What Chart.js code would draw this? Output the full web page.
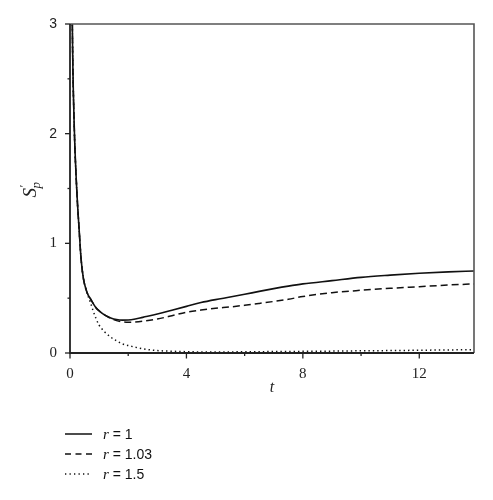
<!DOCTYPE html>
<html><head><meta charset="utf-8">
<script src="https://cdn.jsdelivr.net/npm/chart.js@4.4.1/dist/chart.umd.min.js"></script>
<style>
body{margin:0;background:#fff;}
#wrap{position:relative;width:493px;height:500px;}
#legend{position:absolute;left:0;top:0;width:493px;height:500px;pointer-events:none;}
.row{position:absolute;left:65px;height:20px;display:flex;align-items:center;font:14px "Liberation Sans",Arial,sans-serif;color:#111;white-space:pre;}
.row svg{margin-right:11px;display:block}
.r{font-family:"Liberation Serif",serif;font-style:italic;font-size:15px}
</style></head>
<body><div id="wrap"><canvas id="c" width="493" height="500"></canvas><div id="legend"></div></div>
<script>
// ---- data ----
const tValues = [0.05,0.08,0.14,0.23,0.32,0.38,0.46,0.55,0.62,0.69,0.8,0.9,1.0,1.2,1.4,1.6,1.8,2.0,2.2,2.5,3.0,3.5,4.0,4.5,5.0,5.5,6.0,6.5,7.0,7.5,8.0,9.0,10,11,12,13,13.88];
const spR1   = [4.2,3.0,2.12,1.5,1.1,0.86,0.68,0.58,0.53,0.50,0.45,0.41,0.385,0.345,0.32,0.305,0.30,0.301,0.307,0.325,0.355,0.39,0.425,0.46,0.487,0.51,0.535,0.562,0.587,0.61,0.63,0.66,0.69,0.71,0.727,0.74,0.748];
const spR103 = [4.2,3.0,2.12,1.5,1.1,0.86,0.68,0.58,0.53,0.50,0.45,0.41,0.385,0.345,0.315,0.295,0.284,0.28,0.282,0.29,0.31,0.34,0.372,0.392,0.408,0.42,0.435,0.452,0.47,0.49,0.515,0.55,0.572,0.59,0.605,0.62,0.63];
const spR15  = [4.2,3.0,2.12,1.5,1.1,0.86,0.68,0.58,0.52,0.47,0.38,0.31,0.255,0.19,0.145,0.11,0.083,0.068,0.055,0.038,0.022,0.016,0.012,0.01,0.01,0.01,0.011,0.012,0.013,0.014,0.015,0.017,0.02,0.022,0.025,0.028,0.03];
const rLabels = ['1','1.03','1.5'];
const xMajorTicks = [0,4,8,12];
const xMinorTicks = [2,6,10];
const yMajorTicks = [0,1,2,3];
const yMinorTicks = [0.5,1.5,2.5];
const xTitle = 't';

const seriesValues = [spR1, spR103, spR15];
const dashes = [[], [7,4], [1.4,3]];
const widths = [1.6, 1.5, 1.5];

const datasets = seriesValues.map((vals,i)=>({
  label: 'r = ' + rLabels[i],
  data: tValues.map((t,k)=>({x:t, y:vals[k]})),
  borderColor:'#111', borderWidth:widths[i], borderDash:dashes[i],
  pointRadius:0, fill:false, cubicInterpolationMode:'monotone'
}));

const framePlugin = {
  id:'frame',
  afterDraw(chart){
    const {ctx, chartArea:a, scales:{x,y}} = chart;
    ctx.save();
    ctx.strokeStyle='#555'; ctx.lineWidth=1.6;
    ctx.beginPath(); ctx.moveTo(a.left,a.top); ctx.lineTo(a.right,a.top); ctx.lineTo(a.right,a.bottom); ctx.stroke();
    ctx.strokeStyle='#222'; ctx.lineWidth=1.8;
    ctx.beginPath(); ctx.moveTo(a.left,a.top); ctx.lineTo(a.left,a.bottom); ctx.lineTo(a.right,a.bottom); ctx.stroke();
    ctx.lineWidth=1.3;
    const tk=(px,py,dx,dy)=>{ctx.beginPath();ctx.moveTo(px,py);ctx.lineTo(px+dx,py+dy);ctx.stroke();};
    xMajorTicks.forEach(v=>tk(x.getPixelForValue(v),a.bottom,0,5.5));
    xMinorTicks.forEach(v=>tk(x.getPixelForValue(v),a.bottom,0,3));
    yMajorTicks.forEach(v=>tk(a.left,y.getPixelForValue(v),-5,0));
    yMinorTicks.forEach(v=>tk(a.left,y.getPixelForValue(v),-2.5,0));
    // y title S'_p
    ctx.fillStyle='#222';
    ctx.translate(31,(a.top+a.bottom)/2-3);
    ctx.rotate(-Math.PI/2);
    ctx.textBaseline='middle'; ctx.textAlign='left';
    ctx.font='italic 19px "Liberation Serif", serif';
    ctx.fillText('S',-12,0);
    const sw=ctx.measureText('S').width;
    ctx.font='13px "Liberation Serif", serif';
    ctx.fillText('\u2032',-12+sw+0.5,-6);
    ctx.font='italic 13px "Liberation Serif", serif';
    ctx.fillText('p',-12+sw-0.5,6);
    ctx.restore();
  }
};

new Chart(document.getElementById('c'), {
  type:'line',
  data:{datasets},
  plugins:[framePlugin],
  options:{
    responsive:false, animation:false,
    layout:{padding:{left:0,top:24,right:19,bottom:103}},
    plugins:{legend:{display:false},tooltip:{enabled:false}},
    scales:{
      x:{type:'linear',min:0,max:13.88,
         afterBuildTicks:s=>{s.ticks=xMajorTicks.map(v=>({value:v}));},
         afterFit:s=>{s.height=44;},
         grid:{display:false}, border:{display:false},
         ticks:{padding:4,color:'#222',font:{family:'"Liberation Serif", serif',size:15},autoSkip:false,maxRotation:0},
         title:{display:true,text:xTitle,color:'#222',font:{family:'"Liberation Serif", serif',size:16,style:'italic'},padding:{top:0,bottom:0}}},
      y:{type:'linear',min:0,max:3,
         afterBuildTicks:s=>{s.ticks=yMajorTicks.map(v=>({value:v}));},
         afterFit:s=>{s.width=70;},
         grid:{display:false}, border:{display:false},
         ticks:{padding:5,color:'#222',autoSkip:false,
           font:c=> (c.tick && c.tick.value>=2) ? {family:'"Liberation Sans", Arial, sans-serif',size:14} : {family:'"Liberation Serif", serif',size:15}},
         title:{display:false}}
    }
  }
});

const legend=document.getElementById('legend');
const rowCenters=[434,454,474];
rLabels.forEach((lab,i)=>{
  const row=document.createElement('div'); row.className='row'; row.style.top=(rowCenters[i]-10)+'px';
  const da = i===1 ? '6,4.5' : (i===2 ? '1.3,3.2' : 'none');
  row.innerHTML='<svg width="27" height="4"><line x1="0" y1="2" x2="27" y2="2" stroke="#111" stroke-width="1.5" stroke-dasharray="'+da+'"/></svg><span class="r">r</span> = '+lab;
  legend.appendChild(row);
});
</script>
</body></html>
